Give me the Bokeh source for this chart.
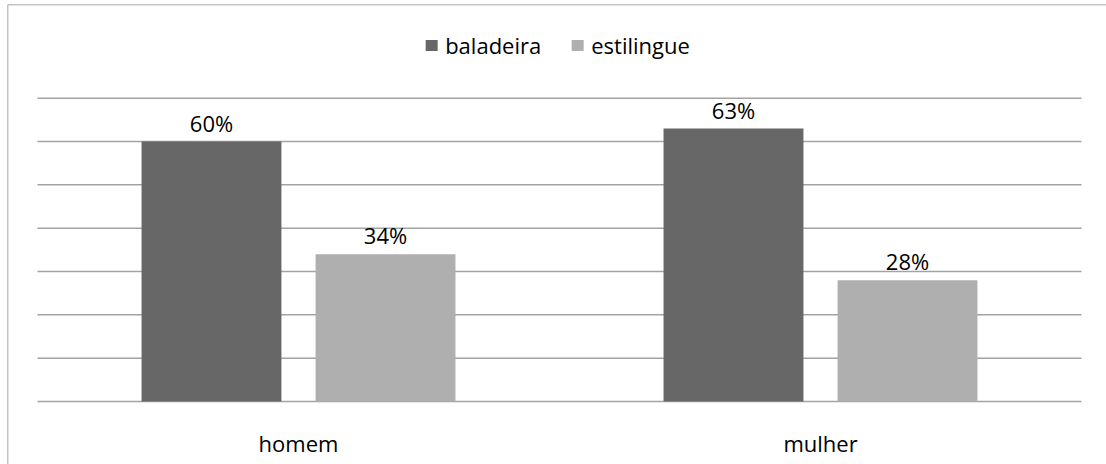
from bokeh.plotting import figure
from bokeh.models import Range1d, Span, Legend, LegendItem, ColumnDataSource
from bokeh.core.properties import value
from bokeh.embed import file_html
from bokeh.resources import INLINE

categories = ["homem", "mulher"]
series_names = ["baladeira", "estilingue"]
baladeira = [0.60, 0.63]
estilingue = [0.34, 0.28]
grid_values = [0.0, 0.1, 0.2, 0.3, 0.4, 0.5, 0.6, 0.7]

colors = ["#676767", "#afafaf"]
FONT = value("Open Sans")

p = figure(width=1106, height=464, output_backend="svg", toolbar_location=None,
           x_range=Range1d(-0.0575, 2.0479), y_range=Range1d(-0.1454, 0.9162),
           x_axis_location=None, y_axis_location=None,
           min_border_left=7, min_border_top=4, min_border_right=0, min_border_bottom=0)
p.xgrid.visible = False
p.ygrid.visible = False
p.outline_line_color = None
p.background_fill_color = "white"
p.border_fill_color = "white"

# horizontal gridlines across the category band
n = len(categories)
p.segment(x0=[0] * len(grid_values), x1=[n] * len(grid_values), y0=grid_values, y1=grid_values,
          line_color="#a3a3a3", line_width=1.5)

offset = 0.1667
bar_w = 0.268
renderers = []
for k, (name, vals) in enumerate(zip(series_names, [baladeira, estilingue])):
    xs = [i + 0.5 + (k - 0.5) * 2 * offset for i in range(n)]
    src = ColumnDataSource(dict(x=xs, top=vals, lab=[f"{round(v * 100)}%" for v in vals]))
    r = p.vbar(x="x", top="top", bottom=0, width=bar_w, source=src,
               fill_color=colors[k], line_color=None)
    renderers.append(r)
    p.text(x="x", y="top", text="lab", source=src, text_align="center",
           text_baseline="alphabetic", y_offset=-19, text_font=FONT,
           text_font_size="22px", text_color="#000000")

# category labels
p.text(x=[i + 0.5 for i in range(n)], y=[0] * n, text=categories, text_align="center",
       text_baseline="alphabetic", y_offset=42, text_font=FONT, text_font_size="22px",
       text_color="#000000")

# chart border (left and top)
p.add_layout(Span(location=p.x_range.start, dimension="height", line_color="#8a8a8a", line_width=1.5))
p.add_layout(Span(location=p.y_range.end, dimension="width", line_color="#8a8a8a", line_width=1.5))

legend = Legend(items=[LegendItem(label=nm, renderers=[r]) for nm, r in zip(series_names, renderers)],
                orientation="horizontal", location="top_center",
                glyph_width=15, glyph_height=14, label_standoff=7, spacing=28,
                label_text_font="Open Sans", label_text_font_size="22px", label_text_color="#000000",
                padding=0, margin=26, border_line_color=None, background_fill_alpha=0)
p.add_layout(legend, "center")

open("out.html", "w").write(file_html(p, INLINE))
